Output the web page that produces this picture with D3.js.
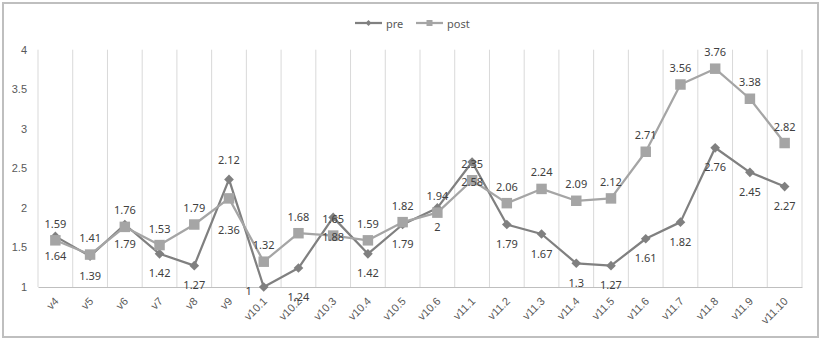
<!DOCTYPE html>
<html>
<head>
<meta charset="utf-8">
<script src="https://cdn.jsdelivr.net/npm/d3@7/dist/d3.min.js"></script>
<style>
  html, body { margin: 0; padding: 0; background: #fff; }
  svg { display: block; font-family: "Noto Sans", "Open Sans", sans-serif; }
</style>
</head>
<body>
<svg id="chart" width="821" height="340"></svg>
<script>
const categories = ["v4","v5","v6","v7","v8","v9","v10.1","v10.2","v10.3","v10.4","v10.5","v10.6",
  "v11.1","v11.2","v11.3","v11.4","v11.5","v11.6","v11.7","v11.8","v11.9","v11.10"];
const preValues  = [1.64,1.39,1.79,1.42,1.27,2.36,1,1.24,1.88,1.42,1.79,2,2.58,1.79,1.67,1.3,1.27,1.61,1.82,2.76,2.45,2.27];
const postValues = [1.59,1.41,1.76,1.53,1.79,2.12,1.32,1.68,1.65,1.59,1.82,1.94,2.35,2.06,2.24,2.09,2.12,2.71,3.56,3.76,3.38,2.82];
const yTicks = [1,1.5,2,2.5,3,3.5,4];
const seriesNames = ["pre","post"];

(function () {
const svg = d3.select("#chart");
const W = 821, H = 340;
const pLeft = 38, pRight = 802, pTop = 49.7, pBottom = 287;

// manual label placement tweaks (as in the source chart)
const labelNudge = {
  "pre|v9": [0, 31],
  "post|v9": [0, -22],
  "pre|v10.1": [-15, -16],
  "pre|v10.2": [0, 9]
};

// outer border
svg.append("rect").attr("x", 3).attr("y", 3).attr("width", W - 6).attr("height", H - 6)
  .attr("fill", "#fff").attr("stroke", "#bfbfbf").attr("stroke-width", 2);

const x = d3.scaleBand().domain(categories).range([pLeft, pRight]).paddingInner(0).paddingOuter(0);
const y = d3.scaleLinear().domain([1, 4]).range([pBottom, pTop]);
const cx = c => x(c) + x.bandwidth() / 2;

// vertical gridlines at band boundaries
const bounds = categories.map(c => x(c)).concat([pRight]);
svg.append("g").selectAll("line").data(bounds).join("line")
  .attr("x1", d => d).attr("x2", d => d)
  .attr("y1", y(4)).attr("y2", y(1))
  .attr("stroke", "#d9d9d9").attr("stroke-width", 1);

// y axis
const yAxis = svg.append("g").attr("transform", `translate(${pLeft},0)`)
  .call(d3.axisLeft(y).tickValues(yTicks).tickSize(0).tickPadding(11).tickFormat(d => String(d)));
yAxis.select(".domain").remove();
yAxis.selectAll("text").attr("fill", "#595959").style("font-size", "11px").style("font-family", "inherit");

// x axis
const xAxis = svg.append("g").attr("transform", `translate(0,${pBottom})`)
  .call(d3.axisBottom(x).tickSize(0).tickPadding(0));
xAxis.select(".domain").attr("stroke", "#bfbfbf").attr("stroke-width", 1);
xAxis.selectAll("text")
  .attr("fill", "#595959").style("font-size", "11px").style("font-family", "inherit")
  .attr("text-anchor", "end")
  .attr("y", 0).attr("dy", 0)
  .attr("transform", "translate(4,15) rotate(-45)");

// series
const series = [
  { name: seriesNames[0], values: preValues, color: "#808080", marker: "diamond", labelDy: 19 },
  { name: seriesNames[1], values: postValues, color: "#a5a5a5", marker: "square", labelDy: -17 }
];

const line = d3.line().x((d, i) => cx(categories[i])).y(d => y(d));

series.forEach(s => {
  const g = svg.append("g");
  g.append("path").datum(s.values).attr("d", line)
    .attr("fill", "none").attr("stroke", s.color).attr("stroke-width", 2.25).attr("stroke-linejoin", "round");
  const sym = s.marker === "diamond"
    ? d3.symbol().type(d3.symbolDiamond2).size(60)
    : d3.symbol().type(d3.symbolSquare).size(110);
  g.selectAll("path.m").data(s.values).join("path").attr("class", "m")
    .attr("d", sym)
    .attr("transform", (d, i) => `translate(${cx(categories[i])},${y(d)})`)
    .attr("fill", s.color);
});

// data labels drawn last
series.forEach(s => {
  const nud = i => labelNudge[s.name + "|" + categories[i]] || [0, 0];
  svg.append("g").selectAll("text").data(s.values).join("text")
    .attr("x", (d, i) => cx(categories[i]) + nud(i)[0])
    .attr("y", (d, i) => y(d) + s.labelDy + nud(i)[1])
    .attr("dominant-baseline", "central")
    .attr("text-anchor", "middle")
    .attr("fill", "#404040").style("font-size", "11px")
    .text(d => String(d));
});

// legend
const legend = [
  { name: seriesNames[0], color: "#808080", marker: "diamond", x0: 355 },
  { name: seriesNames[1], color: "#a5a5a5", marker: "square", x0: 416 }
];
legend.forEach(l => {
  const g = svg.append("g").attr("transform", `translate(${l.x0},23)`);
  g.append("line").attr("x1", 0).attr("x2", 27).attr("y1", 0).attr("y2", 0)
    .attr("stroke", l.color).attr("stroke-width", 2.25);
  const sym = l.marker === "diamond"
    ? d3.symbol().type(d3.symbolDiamond2).size(22)
    : d3.symbol().type(d3.symbolSquare).size(36);
  g.append("path").attr("d", sym).attr("transform", "translate(13.5,0)").attr("fill", l.color);
  g.append("text").attr("x", 31).attr("y", 0).attr("dominant-baseline", "central")
    .attr("fill", "#595959").style("font-size", "11px").text(l.name);
});
})();
</script>
</body>
</html>
